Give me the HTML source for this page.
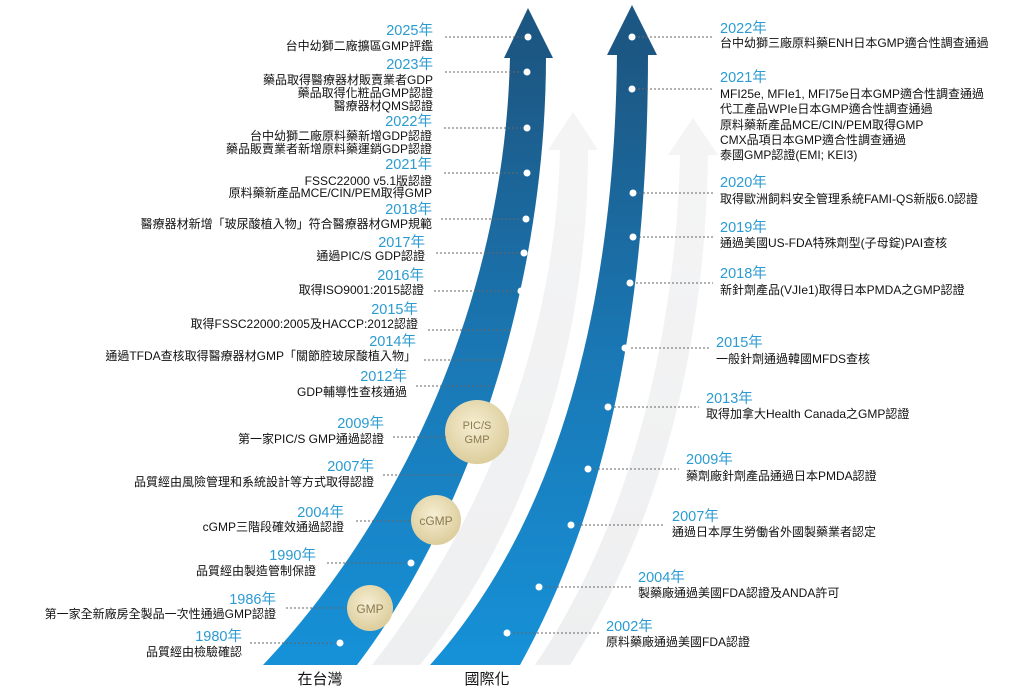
<!DOCTYPE html>
<html><head><meta charset="utf-8"><style>
body{margin:0;background:#fff;}
svg{display:block;}
text{font-family:"Liberation Sans","Noto Sans CJK TC",sans-serif;}
.y{fill:#2b9bd1;font-size:14.5px;}
.l{fill:#111;font-size:12px;}
.d{stroke:#666;stroke-width:1;stroke-dasharray:2,2;}
.r text{text-anchor:end;}
.b{fill:#111;font-size:15px;text-anchor:middle;}
</style></head><body>
<svg width="1024" height="700" viewBox="0 0 1024 700">
<defs>
<linearGradient id="g" x1="0" y1="0" x2="0" y2="1">
<stop offset="0" stop-color="#1c5783"/><stop offset="0.5" stop-color="#1a78b5"/><stop offset="1" stop-color="#1691d8"/>
</linearGradient>
<linearGradient id="f" x1="0" y1="0" x2="0" y2="1">
<stop offset="0" stop-color="#f4f4f5"/><stop offset="1" stop-color="#eeeff0"/>
</linearGradient>
<radialGradient id="c" cx="0.45" cy="0.4" r="0.6"><stop offset="0" stop-color="#f6eed2"/><stop offset="1" stop-color="#dccd9c"/></radialGradient>
</defs>
<path d="M372,665 C470,540 555,360 560,150 L588,150 C588,360 520,540 420,665 Z" fill="url(#f)"/>
<polygon points="573,112 598,150 548,150" fill="#f4f4f5"/>
<path d="M535,665 C620,540 675,360 680,155 L708,155 C705,370 650,540 570,665 Z" fill="url(#f)"/>
<polygon points="693,118 718,155 668,155" fill="#f4f4f5"/>
<path d="M263,665 C400,520 505,300 510,56 L546,56 C546,300 460,530 357,665 Z" fill="url(#g)"/>
<polygon points="528,8 553,58 504,58" fill="#1c5783"/>
<path d="M430,665 C560,520 615,300 617,53 L648,53 C648,330 600,520 520,665 Z" fill="url(#g)"/>
<polygon points="632,5 657,55 607,55" fill="#1c5783"/>
<g fill="#fff">
<circle cx="528" cy="37" r="3.5"/><circle cx="527" cy="72" r="3.5"/><circle cx="527" cy="128" r="3.5"/><circle cx="527" cy="173" r="3.5"/><circle cx="526" cy="219" r="3.5"/><circle cx="524" cy="253" r="3.5"/><circle cx="521" cy="291" r="3.5"/><circle cx="516" cy="330" r="3.5"/><circle cx="509" cy="360" r="3.5"/><circle cx="499" cy="386" r="3.5"/><circle cx="467" cy="475" r="3.5"/><circle cx="411" cy="563" r="3.5"/><circle cx="340" cy="643" r="3.5"/>
<circle cx="632" cy="37" r="3.5"/><circle cx="632" cy="89" r="3.5"/><circle cx="633" cy="193" r="3.5"/><circle cx="633" cy="237" r="3.5"/><circle cx="630" cy="283" r="3.5"/><circle cx="625" cy="348" r="3.5"/><circle cx="608" cy="407" r="3.5"/><circle cx="588" cy="469" r="3.5"/><circle cx="571" cy="525" r="3.5"/><circle cx="539" cy="587" r="3.5"/><circle cx="507" cy="633" r="3.5"/>
</g>
<circle cx="477" cy="432" r="32" fill="url(#c)"/>
<text x="477" y="429" font-size="11" fill="#8a7a50" text-anchor="middle">PIC/S</text>
<text x="477" y="443" font-size="11" fill="#8a7a50" text-anchor="middle">GMP</text>
<circle cx="436" cy="520" r="25" fill="url(#c)"/>
<text x="436" y="525" font-size="12" fill="#8a7a50" text-anchor="middle">cGMP</text>
<circle cx="370" cy="608" r="23" fill="url(#c)"/>
<text x="370" y="613" font-size="12" fill="#8a7a50" text-anchor="middle">GMP</text>
<g class="d">
<line x1="445" y1="37" x2="522" y2="37"/><line x1="445" y1="72" x2="521" y2="72"/><line x1="444" y1="128" x2="521" y2="128"/><line x1="444" y1="173" x2="521" y2="173"/><line x1="441" y1="219" x2="520" y2="219"/><line x1="436" y1="253" x2="518" y2="253"/><line x1="434" y1="291" x2="515" y2="291"/><line x1="428" y1="330" x2="510" y2="330"/><line x1="424" y1="360" x2="503" y2="360"/><line x1="416" y1="386" x2="493" y2="386"/><line x1="393" y1="437" x2="446" y2="437"/><line x1="383" y1="475" x2="461" y2="475"/><line x1="356" y1="521" x2="411" y2="521"/><line x1="327" y1="563" x2="405" y2="563"/><line x1="286" y1="608" x2="347" y2="608"/><line x1="250" y1="643" x2="334" y2="643"/>
</g>
<g class="r">
<text class="y" x="433" y="35">2025年</text><text class="l" x="433" y="50">台中幼獅二廠擴區GMP評鑑</text>
<text class="y" x="433" y="69">2023年</text><text class="l" x="433" y="84">藥品取得醫療器材販賣業者GDP</text><text class="l" x="433" y="97">藥品取得化粧品GMP認證</text><text class="l" x="433" y="110">醫療器材QMS認證</text>
<text class="y" x="432" y="126">2022年</text><text class="l" x="432" y="140">台中幼獅二廠原料藥新增GDP認證</text><text class="l" x="432" y="153">藥品販賣業者新增原料藥運銷GDP認證</text>
<text class="y" x="432" y="169">2021年</text><text class="l" x="432" y="185">FSSC22000 v5.1版認證</text><text class="l" x="432" y="197">原料藥新產品MCE/CIN/PEM取得GMP</text>
<text class="y" x="432" y="214">2018年</text><text class="l" x="432" y="228">醫療器材新增「玻尿酸植入物」符合醫療器材GMP規範</text>
<text class="y" x="425" y="247">2017年</text><text class="l" x="425" y="260">通過PIC/S GDP認證</text>
<text class="y" x="424" y="280">2016年</text><text class="l" x="424" y="294">取得ISO9001:2015認證</text>
<text class="y" x="418" y="314">2015年</text><text class="l" x="418" y="328">取得FSSC22000:2005及HACCP:2012認證</text>
<text class="y" x="416" y="346">2014年</text><text class="l" x="416" y="360">通過TFDA查核取得醫療器材GMP「關節腔玻尿酸植入物」</text>
<text class="y" x="407" y="381">2012年</text><text class="l" x="407" y="396">GDP輔導性查核通過</text>
<text class="y" x="384" y="428">2009年</text><text class="l" x="384" y="443">第一家PIC/S GMP通過認證</text>
<text class="y" x="374" y="471">2007年</text><text class="l" x="374" y="486">品質經由風險管理和系統設計等方式取得認證</text>
<text class="y" x="344" y="517">2004年</text><text class="l" x="344" y="531">cGMP三階段確效通過認證</text>
<text class="y" x="316" y="560">1990年</text><text class="l" x="316" y="575">品質經由製造管制保證</text>
<text class="y" x="276" y="604">1986年</text><text class="l" x="276" y="618">第一家全新廠房全製品一次性通過GMP認證</text>
<text class="y" x="242" y="641">1980年</text><text class="l" x="242" y="656">品質經由檢驗確認</text>
</g>
<g class="d">
<line x1="638" y1="37" x2="713" y2="37"/><line x1="638" y1="89" x2="713" y2="89"/><line x1="639" y1="193" x2="713" y2="193"/><line x1="639" y1="237" x2="713" y2="237"/><line x1="636" y1="283" x2="713" y2="283"/><line x1="631" y1="348" x2="709" y2="348"/><line x1="614" y1="407" x2="699" y2="407"/><line x1="594" y1="469" x2="679" y2="469"/><line x1="577" y1="525" x2="665" y2="525"/><line x1="545" y1="587" x2="631" y2="587"/><line x1="513" y1="633" x2="599" y2="633"/>
</g>
<text class="y" x="720" y="33">2022年</text><text class="l" x="720" y="47">台中幼獅三廠原料藥ENH日本GMP適合性調查通過</text>
<text class="y" x="720" y="82">2021年</text><text class="l" x="720" y="98">MFI25e, MFIe1, MFI75e日本GMP適合性調查通過</text><text class="l" x="720" y="113">代工產品WPIe日本GMP適合性調查通過</text><text class="l" x="720" y="129">原料藥新產品MCE/CIN/PEM取得GMP</text><text class="l" x="720" y="144">CMX品項日本GMP適合性調查通過</text><text class="l" x="720" y="159">泰國GMP認證(EMI; KEI3)</text>
<text class="y" x="720" y="187">2020年</text><text class="l" x="720" y="203">取得歐洲飼料安全管理系統FAMI-QS新版6.0認證</text>
<text class="y" x="720" y="232">2019年</text><text class="l" x="720" y="247">通過美國US-FDA特殊劑型(子母錠)PAI查核</text>
<text class="y" x="720" y="278">2018年</text><text class="l" x="720" y="294">新針劑產品(VJIe1)取得日本PMDA之GMP認證</text>
<text class="y" x="716" y="347">2015年</text><text class="l" x="716" y="363">一般針劑通過韓國MFDS查核</text>
<text class="y" x="706" y="403">2013年</text><text class="l" x="706" y="418">取得加拿大Health Canada之GMP認證</text>
<text class="y" x="686" y="464">2009年</text><text class="l" x="686" y="480">藥劑廠針劑產品通過日本PMDA認證</text>
<text class="y" x="672" y="521">2007年</text><text class="l" x="672" y="536">通過日本厚生勞働省外國製藥業者認定</text>
<text class="y" x="638" y="582">2004年</text><text class="l" x="638" y="597">製藥廠通過美國FDA認證及ANDA許可</text>
<text class="y" x="606" y="631">2002年</text><text class="l" x="606" y="646">原料藥廠通過美國FDA認證</text>
<text class="b" x="320" y="684">在台灣</text>
<text class="b" x="487" y="684">國際化</text>
</svg>
</body></html>
